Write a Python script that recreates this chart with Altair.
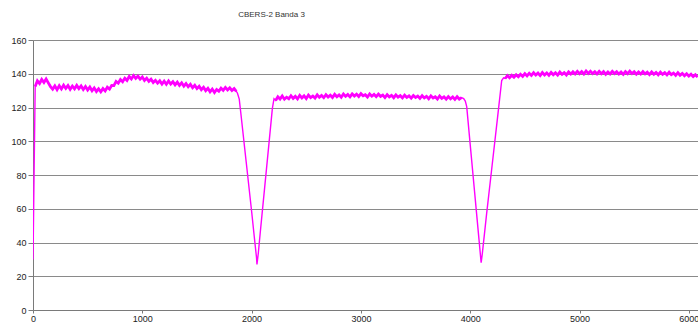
import altair as alt
import numpy as np
import pandas as pd

# Radiometric profile along one image line, CBERS-2 band 3 (digital numbers)
# Plateau segments are sampled every STEP columns from their first column.
STEP = 20

plateau1_start = 0
plateau1 = [
    30.0,
    132.5, 135.8, 134.2, 136.6, 134.8, 136.9, 134.6, 132.4, 130.9, 132.8,
    130.6, 132.9, 131.0, 133.2, 131.3, 133.0, 130.8, 132.7, 131.1, 133.1,
    131.2, 132.8, 130.7, 132.5, 130.4, 132.1, 129.9, 131.6, 129.5, 131.1,
    129.3, 131.2, 129.8, 132.0, 130.9, 133.1, 133.0, 135.5, 134.4, 136.6,
    135.3, 137.4, 136.1, 138.4, 136.9, 138.9, 137.3, 138.6, 136.8, 138.1,
    136.0, 137.4, 135.5, 136.8, 134.8, 136.1, 134.4, 135.8, 133.9, 135.6,
    133.8, 135.7, 133.9, 135.3, 133.4, 135.0, 133.1, 134.6, 132.6, 134.2,
    132.3, 133.7, 131.7, 133.2, 131.2, 132.6, 130.6, 132.0, 130.0, 131.4,
    129.3, 130.9, 128.9, 130.7, 129.6, 131.5, 130.2, 131.9, 130.4, 131.7,
    130.1, 131.2, 129.6,
]

dip1_x = [1870, 1887, 1900, 1950, 2000, 2030, 2045, 2049, 2061, 2080, 2120, 2160, 2190, 2205]
dip1_y = [128.6, 125.0, 117.5, 88.0, 58.5, 40.0, 31.0, 27.0, 33.5, 46.5, 73.0, 99.5, 119.5, 125.2]

plateau2_start = 2220
plateau2 = [
    124.2, 126.3, 125.0, 126.8, 124.9, 126.1, 125.2, 127.0, 125.4, 126.6,
    125.1, 127.2, 125.7, 126.9, 125.3, 127.4, 125.9, 126.8, 125.6, 127.5,
    126.0, 127.1, 125.8, 127.6, 126.2, 127.3, 125.9, 127.8, 126.4, 127.5,
    126.1, 128.0, 126.6, 127.7, 126.3, 128.1, 126.8, 127.9, 126.5, 128.2,
    126.9, 127.6, 126.2, 128.0, 126.7, 127.8, 126.4, 127.9, 126.6, 127.4,
    125.9, 127.6, 126.3, 127.2, 125.8, 127.5, 126.1, 127.0, 125.7, 127.3,
    126.0, 126.9, 125.5, 127.1, 125.9, 126.8, 125.4, 127.0, 125.7, 126.6,
    125.2, 126.9, 125.6, 126.4, 125.0, 126.8, 125.4, 126.3, 124.9, 126.5,
    125.1, 126.2, 124.8, 126.4, 125.0, 125.9,
]

dip2_x = [3940, 3955, 3968, 4000, 4040, 4080, 4095, 4100, 4110, 4150, 4200, 4250, 4288, 4305]
dip2_y = [125.3, 123.8, 120.5, 98.0, 70.0, 42.0, 31.5, 28.0, 33.0, 57.0, 85.5, 114.0, 136.0, 137.6]

plateau3_start = 4320
plateau3 = [
    137.2, 138.9, 137.6, 139.1, 137.9, 139.4, 138.2, 139.7, 138.4, 140.1,
    138.7, 140.3, 139.0, 140.6, 139.2, 140.4, 138.9, 140.7, 139.3, 140.5,
    139.1, 140.8, 139.4, 140.6, 139.2, 141.0, 139.6, 140.7, 139.3, 141.1,
    139.8, 141.2, 139.9, 141.4, 140.0, 141.3, 139.8, 141.6, 140.2, 141.5,
    140.1, 141.2, 139.9, 141.4, 140.0, 141.3, 139.7, 141.1, 139.9, 141.4,
    140.1, 141.2, 139.8, 141.0, 139.6, 141.3, 140.0, 141.5, 140.1, 141.2,
    139.7, 141.0, 139.8, 141.3, 139.9, 140.9, 139.5, 141.1, 139.7, 140.8,
    139.4, 141.0, 139.6, 140.7, 139.3, 140.9, 139.5, 140.4, 139.0, 140.6,
    139.1, 140.2, 138.8, 140.0, 138.6, 139.7, 138.3, 139.4, 138.1,
]

x_ticks = [0, 1000, 2000, 3000, 4000, 5000, 6000]
y_ticks = [0, 20, 40, 60, 80, 100, 120, 140, 160]
title_text = "CBERS-2 Banda 3"


def plateau(name, start, values):
    cols = start + STEP * np.arange(len(values))
    return pd.DataFrame({"col": cols, "dn": values, "part": name})


def dip(name, xs, ys):
    return pd.DataFrame({"col": xs, "dn": ys, "part": name})


p1 = plateau("p1", plateau1_start, plateau1)
p2 = plateau("p2", plateau2_start, plateau2)
p3 = plateau("p3", plateau3_start, plateau3)

profile = pd.concat(
    [p1, dip("d1", dip1_x, dip1_y), p2, dip("d2", dip2_x, dip2_y), p3],
    ignore_index=True,
).sort_values("col")

# the noisy plateaus are drawn again with a heavier stroke (without the first
# dark sample of the line), so they read as a dense band
plateaus = pd.concat([p1.iloc[1:], p2, p3], ignore_index=True)

label_font = "Liberation Sans"
axis_grey = "#7a7a7a"
magenta = "#ff00ff"

x_enc = alt.X(
    "col:Q",
    scale=alt.Scale(domain=[0, 6084], nice=False, zero=False),
    axis=alt.Axis(
        values=x_ticks,
        format="d",
        title=None,
        grid=False,
        tickSize=3,
        tickColor=axis_grey,
        domainColor=axis_grey,
        labelPadding=1,
        labelFont=label_font,
        labelFontSize=9,
        labelColor="#222222",
        labelFlush=False,
        labelOverlap=False,
    ),
)
y_enc = alt.Y(
    "dn:Q",
    scale=alt.Scale(domain=[0, 160], nice=False),
    axis=alt.Axis(
        values=y_ticks,
        title=None,
        grid=True,
        gridColor="#8a8a8a",
        gridWidth=1,
        tickSize=5,
        tickColor=axis_grey,
        domainColor=axis_grey,
        labelPadding=2,
        labelFont=label_font,
        labelFontSize=9,
        labelColor="#222222",
    ),
)

full_line = (
    alt.Chart(profile)
    .mark_line(color=magenta, strokeWidth=1.4, clip=True)
    .encode(x=x_enc, y=y_enc, order="col:Q")
)

band = (
    alt.Chart(plateaus)
    .mark_line(color=magenta, strokeWidth=2.8, clip=True)
    .encode(x=x_enc, y=y_enc, detail="part:N", order="col:Q")
)

chart = (
    alt.layer(full_line, band)
    .properties(
        width=665,
        height=270,
        title=alt.TitleParams(
            title_text,
            font=label_font,
            fontSize=8,
            fontWeight="normal",
            color="#333333",
            anchor="middle",
            dx=-94,
            frame="group",
            baseline="middle",
            offset=13,
        ),
        autosize=alt.AutoSizeParams(type="none"),
        padding={"left": 33, "top": 40, "right": 0, "bottom": 14},
    )
    .configure_view(stroke=None)
)

chart.save("out.html", embed_options={"renderer": "svg", "actions": False})
